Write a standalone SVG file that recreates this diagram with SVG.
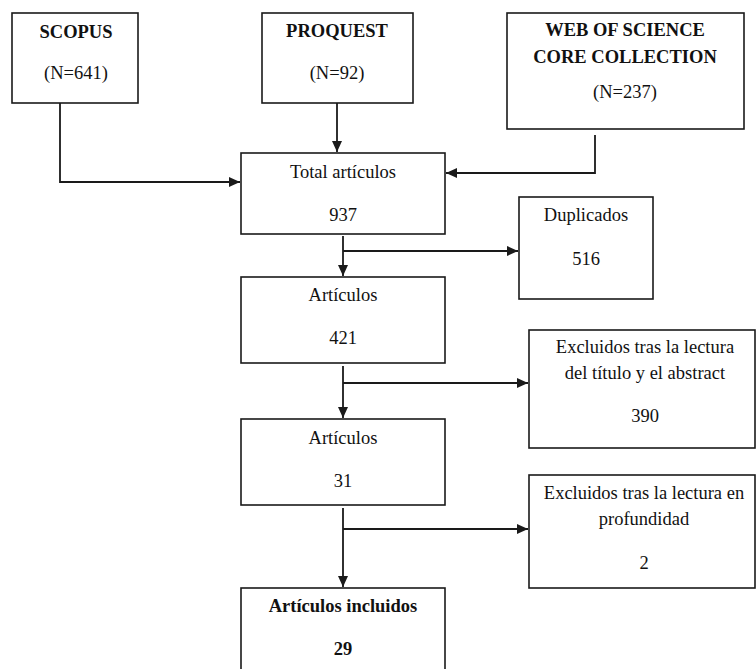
<svg xmlns="http://www.w3.org/2000/svg" width="756" height="669" viewBox="0 0 756 669">
<defs>
<style>
.box{fill:#fff;stroke:#1a1a1a;stroke-width:1.6}
.t{font-family:"Liberation Serif","Times New Roman",serif;font-size:18.5px;fill:#111;text-anchor:middle}
.b{font-weight:bold}
.c{fill:none;stroke:#1a1a1a;stroke-width:1.8}
</style>
<marker id="ah" markerUnits="userSpaceOnUse" markerWidth="12" markerHeight="10" refX="11" refY="5" orient="auto">
<path d="M0,0 L11,5 L0,10 z" fill="#1a1a1a"/>
</marker>
</defs>
<rect width="756" height="669" fill="#fff"/>
<g id="connectors">
<path class="c" d="M60,103 V182 H240" marker-end="url(#ah)"/>
<path class="c" d="M337,103 V152" marker-end="url(#ah)"/>
<path class="c" d="M595,135 V173 H446" marker-end="url(#ah)"/>
<path class="c" d="M343,236 V276" marker-end="url(#ah)"/>
<path class="c" d="M343,251 H518" marker-end="url(#ah)"/>
<path class="c" d="M343,366 V418" marker-end="url(#ah)"/>
<path class="c" d="M343,383 H528" marker-end="url(#ah)"/>
<path class="c" d="M343,508 V587" marker-end="url(#ah)"/>
<path class="c" d="M343,529 H528" marker-end="url(#ah)"/>
</g>
<g id="scopus">
<rect class="box" x="12" y="13" width="126" height="90"/>
<text class="t b" x="76" y="38">SCOPUS</text>
<text class="t" x="76" y="79">(N=641)</text>
</g>
<g id="proquest">
<rect class="box" x="262" y="13" width="151" height="90"/>
<text class="t b" x="337" y="37">PROQUEST</text>
<text class="t" x="337" y="79">(N=92)</text>
</g>
<g id="wos">
<rect class="box" x="507" y="13" width="237" height="116"/>
<text class="t b" x="625" y="36">WEB OF SCIENCE</text>
<text class="t b" x="625" y="63">CORE COLLECTION</text>
<text class="t" x="625" y="98">(N=237)</text>
</g>
<g id="total">
<rect class="box" x="241" y="153" width="204" height="81"/>
<text class="t" x="343" y="178">Total artículos</text>
<text class="t" x="343" y="221">937</text>
</g>
<g id="duplicados">
<rect class="box" x="519" y="197" width="134" height="102"/>
<text class="t" x="586" y="221">Duplicados</text>
<text class="t" x="586" y="265">516</text>
</g>
<g id="articulos421">
<rect class="box" x="241" y="277" width="204" height="86"/>
<text class="t" x="343" y="301">Artículos</text>
<text class="t" x="343" y="344">421</text>
</g>
<g id="excluidos390">
<rect class="box" x="529" y="330" width="226" height="118"/>
<text class="t" x="645" y="353">Excluidos tras la lectura</text>
<text class="t" x="645" y="379">del título y el abstract</text>
<text class="t" x="645" y="422">390</text>
</g>
<g id="articulos31">
<rect class="box" x="241" y="419" width="204" height="86"/>
<text class="t" x="343" y="444">Artículos</text>
<text class="t" x="343" y="487">31</text>
</g>
<g id="excluidos2">
<rect class="box" x="529" y="475" width="226" height="113"/>
<text class="t" x="644" y="499">Excluidos tras la lectura en</text>
<text class="t" x="644" y="525">profundidad</text>
<text class="t" x="644" y="569">2</text>
</g>
<g id="incluidos">
<rect class="box" x="241" y="588" width="204" height="90"/>
<text class="t b" x="343" y="612">Artículos incluidos</text>
<text class="t b" x="343" y="655">29</text>
</g>
</svg>
